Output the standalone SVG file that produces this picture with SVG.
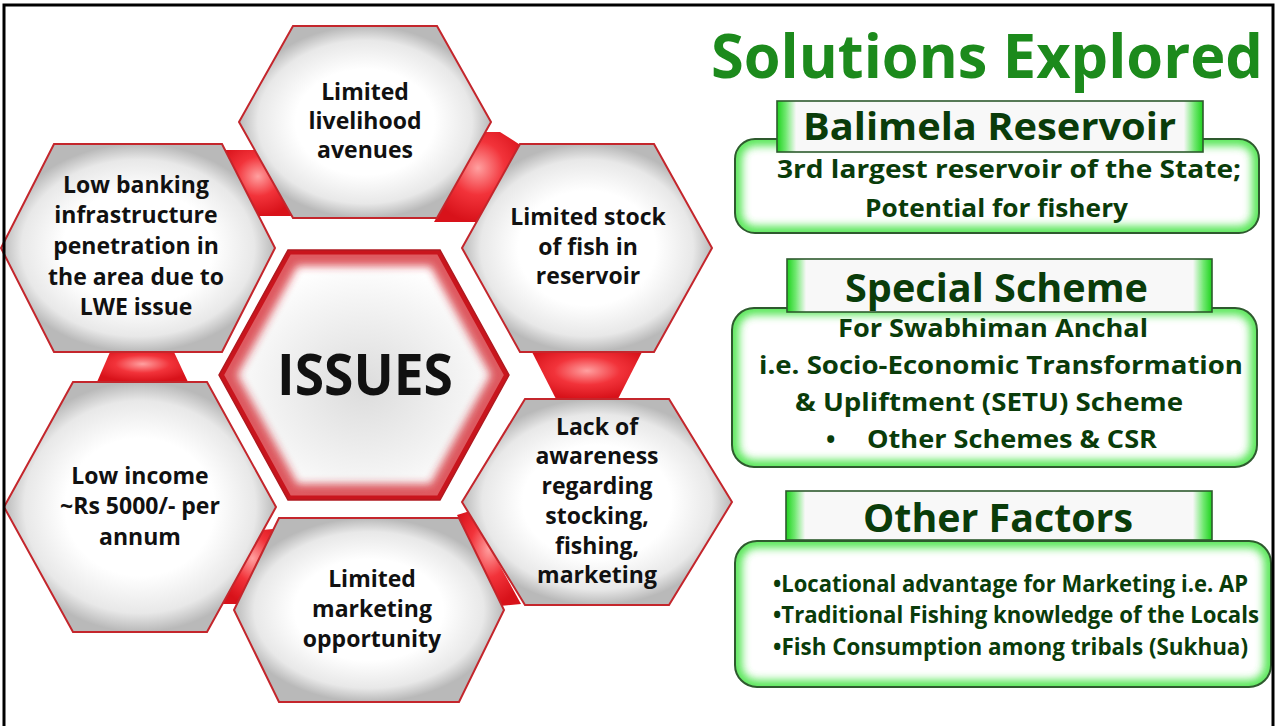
<svg xmlns="http://www.w3.org/2000/svg" width="1276" height="726" viewBox="0 0 1276 726">
<defs>
<style>
.hex{fill:url(#hexFill);stroke:#c4262c;stroke-width:2;stroke-linejoin:miter}
.conn{fill:url(#connFill)}
.ht{font-family:'Open Sans','Liberation Sans',sans-serif;font-weight:700;font-size:23px;fill:#111;text-anchor:middle}
.rt{font-family:'Open Sans','Liberation Sans',sans-serif;font-weight:700;fill:#0a3c0a}
.hdr{fill:url(#hdrFill);stroke:#2e5a2e;stroke-width:1.6}
.rbox{fill:#fff}
.rline{fill:none;stroke:#2e5a2e;stroke-width:2}
.glow{fill:none;stroke:#45e445;stroke-width:14;opacity:0.9;filter:url(#blur)}
</style>
<radialGradient id="hexFill" cx="0.5" cy="0.5" r="0.5">
<stop offset="0" stop-color="#ffffff"/>
<stop offset="0.55" stop-color="#ffffff"/>
<stop offset="0.85" stop-color="#e8e8e8"/>
<stop offset="1" stop-color="#b9b9b9"/>
</radialGradient>
<radialGradient id="issFill" cx="0.5" cy="0.55" r="0.5">
<stop offset="0" stop-color="#dcdcdc"/>
<stop offset="0.7" stop-color="#f4f4f4"/>
<stop offset="1" stop-color="#ffffff"/>
</radialGradient>
<radialGradient id="connFill" cx="0.5" cy="0.4" r="0.6">
<stop offset="0" stop-color="#ffa0a0"/>
<stop offset="0.5" stop-color="#f2333a"/>
<stop offset="1" stop-color="#d8121a"/>
</radialGradient>
<linearGradient id="hdrFill" x1="0" y1="0" x2="1" y2="0">
<stop offset="0" stop-color="#1ed21e"/>
<stop offset="0.02" stop-color="#6fe86f"/>
<stop offset="0.045" stop-color="#f8f8f8"/>
<stop offset="0.955" stop-color="#f8f8f8"/>
<stop offset="0.98" stop-color="#6fe86f"/>
<stop offset="1" stop-color="#1ed21e"/>
</linearGradient>
<filter id="blur" x="-10%" y="-10%" width="120%" height="120%">
<feGaussianBlur stdDeviation="4"/>
</filter>
<filter id="blurR" x="-10%" y="-10%" width="120%" height="120%">
<feGaussianBlur stdDeviation="4"/>
</filter>
<clipPath id="clipIss"><polygon points="288,250 440,250 509,375 440,500 288,500 219,375"/></clipPath>
<clipPath id="clipB1"><rect x="735" y="139" width="524" height="94" rx="20"/></clipPath>
<clipPath id="clipB2"><rect x="732" y="308" width="525" height="159" rx="22"/></clipPath>
<clipPath id="clipB3"><rect x="735" y="541" width="536" height="146" rx="22"/></clipPath>
</defs>

<rect x="0" y="0" width="1276" height="726" fill="#ffffff"/>

<g id="connectors">
<polygon class="conn" points="222,150 258,150 294,216 256,216"/>
<polygon class="conn" points="484,132 500,132 522,146 478,222 434,222"/>
<polygon class="conn" points="532,352 642,352 618,399 556,399"/>
<polygon class="conn" points="457,515 470,511 521,604 500,606"/>
<polygon class="conn" points="262,530 283,528 238,604 222,604"/>
<polygon class="conn" points="110,352 174,352 188,382 97,382"/>
</g>

<g id="node-livelihood">
<polygon class="hex" points="293,26 437,26 491,122 437,218 293,218 239,122"/>
<text class="ht"><tspan x="365" y="100">Limited</tspan><tspan x="365" y="129">livelihood</tspan><tspan x="365" y="158">avenues</tspan></text>
</g>

<g id="node-banking">
<polygon class="hex" points="54,144 222,144 275,248 222,352 54,352 1,248"/>
<text class="ht"><tspan x="136" y="193">Low banking</tspan><tspan x="136" y="223">infrastructure</tspan><tspan x="136" y="254">penetration in</tspan><tspan x="136" y="285">the area due to</tspan><tspan x="136" y="315">LWE issue</tspan></text>
</g>

<g id="node-stock">
<polygon class="hex" points="520,144 654,144 712,248 654,352 520,352 462,248"/>
<text class="ht"><tspan x="588" y="225">Limited stock</tspan><tspan x="588" y="255">of fish in</tspan><tspan x="588" y="284">reservoir</tspan></text>
</g>

<g id="node-awareness">
<polygon class="hex" points="525,399 669,399 732,502 669,605 525,605 462,502"/>
<text class="ht"><tspan x="597" y="435">Lack of</tspan><tspan x="597" y="464">awareness</tspan><tspan x="597" y="494">regarding</tspan><tspan x="597" y="524">stocking,</tspan><tspan x="597" y="554">fishing,</tspan><tspan x="597" y="583">marketing</tspan></text>
</g>

<g id="node-income">
<polygon class="hex" points="73,382 207,382 276,507 207,632 73,632 4,507"/>
<text class="ht"><tspan x="140" y="484">Low income</tspan><tspan x="140" y="514">~Rs 5000/- per</tspan><tspan x="140" y="545">annum</tspan></text>
</g>

<g id="node-marketing">
<polygon class="hex" points="279,518 459,518 504,610 459,702 279,702 234,610"/>
<text class="ht"><tspan x="372" y="587">Limited</tspan><tspan x="372" y="617">marketing</tspan><tspan x="372" y="647">opportunity</tspan></text>
</g>

<g id="node-issues">
<polygon points="288,250 440,250 509,375 440,500 288,500 219,375" fill="url(#issFill)"/>
<g clip-path="url(#clipIss)">
<polygon points="288,250 440,250 509,375 440,500 288,500 219,375" fill="none" stroke="#d3222a" stroke-width="32" opacity="0.75" filter="url(#blurR)"/>
<polygon points="288,250 440,250 509,375 440,500 288,500 219,375" fill="none" stroke="#c9151d" stroke-width="9"/>
</g>
<polygon points="288,250 440,250 509,375 440,500 288,500 219,375" fill="none" stroke="#b01a20" stroke-width="1.5"/>
<text x="365" y="395" font-family="'Open Sans','Liberation Sans',sans-serif" font-weight="700" font-size="57" fill="#111" text-anchor="middle" textLength="176" lengthAdjust="spacingAndGlyphs">ISSUES</text>
</g>

<g id="title">
<text x="711" y="78" font-family="'Open Sans','Liberation Sans',sans-serif" font-weight="700" font-size="60" fill="#1c8a1c" textLength="552" lengthAdjust="spacingAndGlyphs">Solutions Explored</text>
</g>

<g id="node-balimela">
<rect class="rbox" x="735" y="139" width="524" height="94" rx="20"/>
<g clip-path="url(#clipB1)"><rect class="glow" x="735" y="139" width="524" height="94" rx="20"/></g>
<rect class="rline" x="735" y="139" width="524" height="94" rx="20"/>
<rect class="hdr" x="777" y="101" width="426" height="51"/>
<text class="rt" x="803" y="140" font-size="38" textLength="373" lengthAdjust="spacingAndGlyphs">Balimela Reservoir</text>
<text class="rt" x="777" y="178" font-size="25" textLength="464" lengthAdjust="spacingAndGlyphs">3rd largest reservoir of the State;</text>
<text class="rt" x="865" y="217" font-size="25" textLength="263" lengthAdjust="spacingAndGlyphs">Potential for fishery</text>
</g>

<g id="node-special">
<rect class="rbox" x="732" y="308" width="525" height="159" rx="22"/>
<g clip-path="url(#clipB2)"><rect class="glow" x="732" y="308" width="525" height="159" rx="22"/></g>
<rect class="rline" x="732" y="308" width="525" height="159" rx="22"/>
<rect class="hdr" x="787" y="259" width="425" height="53"/>
<text class="rt" x="845" y="302" font-size="39" textLength="303" lengthAdjust="spacingAndGlyphs">Special Scheme</text>
<text class="rt" x="838" y="337" font-size="25" textLength="310" lengthAdjust="spacingAndGlyphs">For Swabhiman Anchal</text>
<text class="rt" x="759" y="374" font-size="25" textLength="484" lengthAdjust="spacingAndGlyphs">i.e. Socio-Economic Transformation</text>
<text class="rt" x="795" y="411" font-size="25" textLength="388" lengthAdjust="spacingAndGlyphs">&amp; Upliftment (SETU)  Scheme</text>
<text class="rt" x="826" y="448" font-size="25">•</text>
<text class="rt" x="867" y="448" font-size="25" textLength="290" lengthAdjust="spacingAndGlyphs">Other Schemes &amp; CSR</text>
</g>

<g id="node-other">
<rect class="rbox" x="735" y="541" width="536" height="146" rx="22"/>
<g clip-path="url(#clipB3)"><rect class="glow" x="735" y="541" width="536" height="146" rx="22"/></g>
<rect class="rline" x="735" y="541" width="536" height="146" rx="22"/>
<rect class="hdr" x="786" y="491" width="426" height="49"/>
<text class="rt" x="863" y="532" font-size="39" textLength="270" lengthAdjust="spacingAndGlyphs">Other Factors</text>
<text class="rt" x="773" y="592" font-size="23" textLength="475" lengthAdjust="spacingAndGlyphs">•Locational advantage for Marketing i.e. AP</text>
<text class="rt" x="773" y="623" font-size="23" textLength="486" lengthAdjust="spacingAndGlyphs">•Traditional Fishing knowledge of the Locals</text>
<text class="rt" x="773" y="655" font-size="23" textLength="475" lengthAdjust="spacingAndGlyphs">•Fish Consumption among tribals  (Sukhua)</text>
</g>

<rect x="4" y="5" width="1269" height="730" fill="none" stroke="#000" stroke-width="3"/>
</svg>
